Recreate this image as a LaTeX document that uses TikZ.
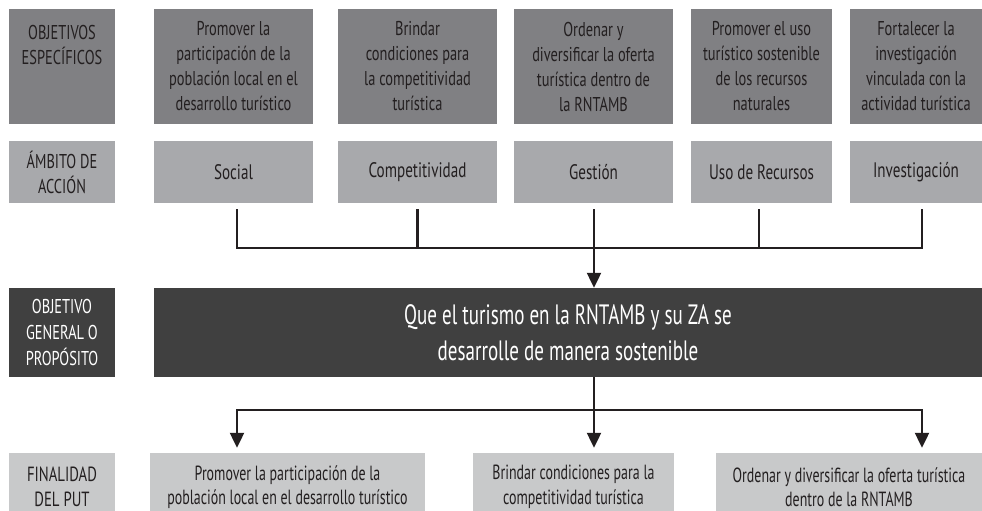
\documentclass[tikz,border=0pt]{standalone}
\usepackage{fontspec}
\setmainfont{PT Sans}[FakeStretch=0.72]
\newfontfamily\narrowfont{PT Sans}[FakeStretch=0.68]
\usetikzlibrary{arrows.meta}
\definecolor{cobj}{HTML}{808083}
\definecolor{camb}{HTML}{A8A9AC}
\definecolor{cgen}{HTML}{404040}
\definecolor{cfin}{HTML}{C8C9CA}
\definecolor{ink}{HTML}{231F20}
\begin{document}
\begin{tikzpicture}[x=1pt,y=-1pt,
  box/.style={rectangle, inner sep=0pt, align=center, text=ink, font=\fontsize{20}{25}\selectfont},
  obj/.style={box, fill=cobj, minimum height=115pt},
  amb/.style={box, fill=camb, minimum height=62pt, font=\fontsize{21}{25}\selectfont},
  gen/.style={box, fill=cgen, text=white, minimum height=89pt},
  fin/.style={box, fill=cfin, minimum height=68pt, font=\narrowfont\fontsize{20.5}{24.5}\selectfont},
  conn/.style={draw=ink, line width=2.2pt},
  tip/.style={-{Triangle[length=15pt,width=14pt]}}
]
\useasboundingbox (0,0) rectangle (982,511);
% left labels
\node[obj, minimum width=106pt, text depth=44pt] (l1) at (62,66.5) {OBJETIVOS\\ESPECÍFICOS};
\node[amb, minimum width=106pt, font=\fontsize{20}{25}\selectfont] (l2) at (62,172) {ÁMBITO DE\\ACCIÓN};
\node[gen, minimum width=106pt, font=\fontsize{20}{26}\selectfont] (l3) at (62,332.5) {OBJETIVO\\GENERAL O\\PROPÓSITO};
\node[fin, minimum width=106pt, font=\fontsize{20.5}{24.5}\selectfont] (l4) at (62,487) {FINALIDAD\\DEL PUT};
% objectives
\node[obj, minimum width=159pt] (o1) at (233.5,66.5) {Promover la\\participación de la\\población local en el\\desarrollo turístico};
\node[obj, minimum width=159pt] (o2) at (417.5,66.5) {Brindar\\condiciones para\\la competitividad\\turística};
\node[obj, minimum width=159pt] (o3) at (593.5,66.5) {Ordenar y\\diversificar la oferta\\turística dentro de\\la RNTAMB};
\node[obj, minimum width=141pt] (o4) at (761.5,66.5) {Promover el uso\\turístico sostenible\\de los recursos\\naturales};
\node[obj, minimum width=132pt] (o5) at (916,66.5) {Fortalecer la\\investigación\\vinculada con la\\actividad turística};
% ambitos
\node[amb, minimum width=159pt] (a1) at (233.5,172) {Social};
\node[amb, minimum width=159pt] (a2) at (417.5,172) {Competitividad};
\node[amb, minimum width=159pt] (a3) at (593.5,172) {Gestión};
\node[amb, minimum width=141pt] (a4) at (761.5,172) {Uso de Recursos};
\node[amb, minimum width=132pt] (a5) at (916,172) {Investigación};
% general objective
\node[gen, minimum width=828pt, font=\narrowfont\fontsize{28}{36}\selectfont] (g) at (568,332.5) {Que el turismo en la RNTAMB y su ZA se\\desarrolle de manera sostenible};
% finalidad
\node[fin, minimum width=275pt] (f1) at (287.5,487) {Promover la participación de la\\población local en el desarrollo turístico};
\node[fin, minimum width=201pt] (f2) at (573.5,487) {Brindar condiciones para la\\competitividad turística};
\node[fin, minimum width=266pt] (f3) at (849,487) {Ordenar y diversificar la oferta turística\\dentro de la RNTAMB};
% connectors
\coordinate (j1) at (0,248);
\coordinate (j2) at (0,410);
\draw[conn] ([xshift=3.5pt,yshift=-6pt]a1.south) |- ([xshift=6pt]a5.south |- j1) -- ([xshift=6pt,yshift=-6pt]a5.south);
\draw[conn] ([yshift=-6pt]a2.south) -- (a2.south |- j1);
\draw[conn] ([xshift=-2.5pt,yshift=-6pt]a4.south) -- ([xshift=-2.5pt]a4.south |- j1);
\draw[conn, tip] ([xshift=.5pt,yshift=-6pt]a3.south) -- ([xshift=.5pt]a3.south |- g.north);
\draw[conn, tip] ([xshift=.5pt]a3.south |- g.south) -- ([xshift=.5pt,yshift=5pt]a3.south |- f2.north);
\draw[conn, {Triangle[length=15pt,width=14pt]}-{Triangle[length=15pt,width=14pt]}] ([xshift=3.5pt,yshift=5pt]a1.south |- f1.north) |- ([xshift=6pt]a5.south |- j2) -- ([xshift=6pt,yshift=5pt]a5.south |- f3.north);
\end{tikzpicture}
\end{document}
